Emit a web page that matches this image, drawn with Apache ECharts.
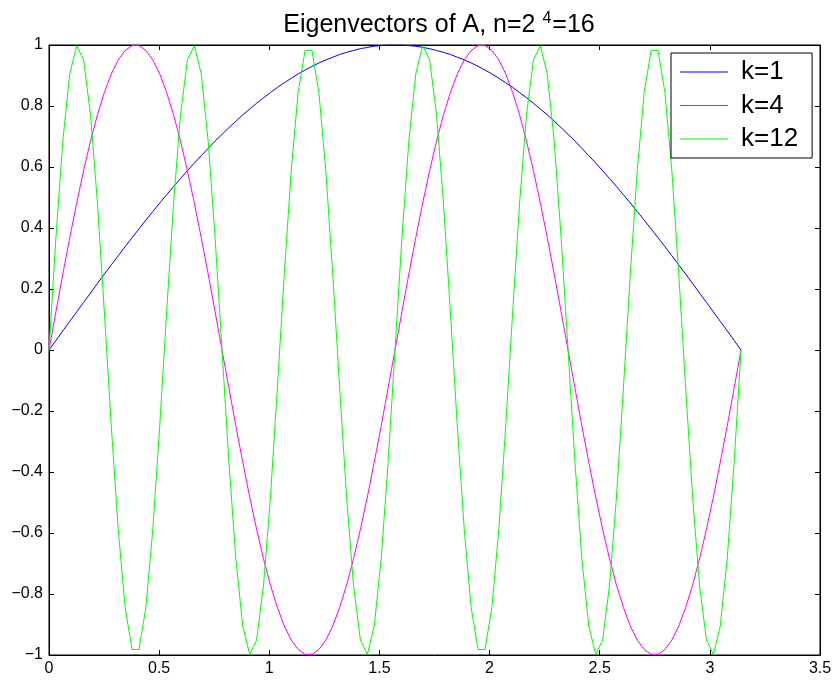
<!DOCTYPE html>
<html>
<head>
<meta charset="utf-8">
<script src="https://cdn.jsdelivr.net/npm/echarts@6/dist/echarts.min.js"></script>
<style>
html,body{margin:0;padding:0;background:#fff;}
#c{width:837px;height:682px;}
</style>
</head>
<body>
<div id="c"></div>
<script>
const xs = [0,0.0314,0.0628,0.0942,0.1257,0.1571,0.1885,0.2199,0.2513,0.2827,
0.3142,0.3456,0.3770,0.4084,0.4398,0.4712,0.5027,0.5341,0.5655,0.5969,
0.6283,0.6597,0.6912,0.7226,0.7540,0.7854,0.8168,0.8482,0.8796,0.9111,
0.9425,0.9739,1.0053,1.0367,1.0681,1.0996,1.1310,1.1624,1.1938,1.2252,
1.2566,1.2881,1.3195,1.3509,1.3823,1.4137,1.4451,1.4765,1.5080,1.5394,
1.5708,1.6022,1.6336,1.6650,1.6965,1.7279,1.7593,1.7907,1.8221,1.8535,
1.8850,1.9164,1.9478,1.9792,2.0106,2.0420,2.0735,2.1049,2.1363,2.1677,
2.1991,2.2305,2.2619,2.2934,2.3248,2.3562,2.3876,2.4190,2.4504,2.4819,
2.5133,2.5447,2.5761,2.6075,2.6389,2.6704,2.7018,2.7332,2.7646,2.7960,
2.8274,2.8588,2.8903,2.9217,2.9531,2.9845,3.0159,3.0473,3.0788,3.1102,
3.1416];

const k1 = [0,0.031,0.063,0.094,0.125,0.156,0.187,0.218,0.249,0.279,
0.309,0.339,0.368,0.397,0.426,0.454,0.482,0.509,0.536,0.562,
0.588,0.613,0.637,0.661,0.685,0.707,0.729,0.750,0.771,0.790,
0.809,0.827,0.844,0.861,0.876,0.891,0.905,0.918,0.930,0.941,
0.951,0.960,0.969,0.976,0.982,0.988,0.992,0.996,0.998,1.000,
1,1.000,0.998,0.996,0.992,0.988,0.982,0.976,0.969,0.960,
0.951,0.941,0.930,0.918,0.905,0.891,0.876,0.861,0.844,0.827,
0.809,0.790,0.771,0.750,0.729,0.707,0.685,0.661,0.637,0.613,
0.588,0.562,0.536,0.509,0.482,0.454,0.426,0.397,0.368,0.339,
0.309,0.279,0.249,0.218,0.187,0.156,0.125,0.094,0.063,0.031,
0];

const k4 = [0,0.125,0.249,0.368,0.482,0.588,0.685,0.771,0.844,0.905,0.951,0.982,0.998,
0.998,0.982,0.951,0.905,0.844,0.771,0.685,0.588,0.482,0.368,0.249,0.125,0,
-0.125,-0.249,-0.368,-0.482,-0.588,-0.685,-0.771,-0.844,-0.905,-0.951,-0.982,-0.998,
-0.998,-0.982,-0.951,-0.905,-0.844,-0.771,-0.685,-0.588,-0.482,-0.368,-0.249,-0.125,0,
0.125,0.249,0.368,0.482,0.588,0.685,0.771,0.844,0.905,0.951,0.982,0.998,
0.998,0.982,0.951,0.905,0.844,0.771,0.685,0.588,0.482,0.368,0.249,0.125,0,
-0.125,-0.249,-0.368,-0.482,-0.588,-0.685,-0.771,-0.844,-0.905,-0.951,-0.982,-0.998,
-0.998,-0.982,-0.951,-0.905,-0.844,-0.771,-0.685,-0.588,-0.482,-0.368,-0.249,-0.125,0];

const k12 = [0,0.368,0.685,0.905,0.998,0.951,0.771,0.482,0.125,-0.249,
-0.588,-0.844,-0.982,-0.982,-0.844,-0.588,-0.249,0.125,0.482,0.771,
0.951,0.998,0.905,0.685,0.368,0,-0.368,-0.685,-0.905,-0.998,
-0.951,-0.771,-0.482,-0.125,0.249,0.588,0.844,0.982,0.982,0.844,
0.588,0.249,-0.125,-0.482,-0.771,-0.951,-0.998,-0.905,-0.685,-0.368,
0,0.368,0.685,0.905,0.998,0.951,0.771,0.482,0.125,-0.249,
-0.588,-0.844,-0.982,-0.982,-0.844,-0.588,-0.249,0.125,0.482,0.771,
0.951,0.998,0.905,0.685,0.368,0,-0.368,-0.685,-0.905,-0.998,
-0.951,-0.771,-0.482,-0.125,0.249,0.588,0.844,0.982,0.982,0.844,
0.588,0.249,-0.125,-0.482,-0.771,-0.951,-0.998,-0.905,-0.685,-0.368,
0];

const seriesNames = ['k=1','k=4','k=12'];
const seriesColors = ['#0000ff','#ff00ff','#00ff00'];
const seriesValues = [k1,k4,k12];

const FONT = 'Liberation Sans, Arial, Helvetica, sans-serif';
const fmt = v => {
  const r = Math.round(v*10)/10;
  return String(r).replace('-', '\u2212');
};

const chart = echarts.init(document.getElementById('c'), null, {renderer:'canvas'});
const axisCommon = {
  axisLine:{show:true, onZero:false, lineStyle:{color:'#000', width:1}},
  axisTick:{show:true, inside:true, length:5, lineStyle:{color:'#000', width:1}},
  splitLine:{show:false}
};
chart.setOption({
  animation:false,
  backgroundColor:'#fff',
  title:{
    text:'Eigenvectors of A, n=2 {sup|4}=16',
    left:434, top:6, textAlign:'center',
    textStyle:{
      fontFamily:FONT, fontSize:25, fontWeight:'normal', color:'#000',
      rich:{sup:{fontFamily:FONT, fontSize:16, verticalAlign:'top', padding:[0,1,12,0], color:'#000'}}
    }
  },
  grid:{left:49, right:17, top:45, bottom:27, show:true, borderColor:'#000', borderWidth:1, backgroundColor:'#fff'},
  legend:{
    orient:'vertical', left:671, top:53,
    padding:[6,14,6,9], itemGap:7.5, itemWidth:48, itemHeight:1, icon:'rect',
    borderColor:'#000', borderWidth:1, backgroundColor:'#fff',
    textStyle:{fontFamily:FONT, fontSize:26, lineHeight:26, color:'#000', padding:[0,0,0,8]},
    data:seriesNames
  },
  xAxis:[
    Object.assign({type:'value', min:0, max:3.5, interval:0.5, position:'bottom',
      axisLabel:{fontFamily:FONT, fontSize:16, color:'#000', margin:6, formatter:fmt}}, axisCommon),
    Object.assign({type:'value', min:0, max:3.5, interval:0.5, position:'top',
      axisLabel:{show:false}}, axisCommon)
  ],
  yAxis:[
    Object.assign({type:'value', min:-1, max:1, interval:0.2, position:'left',
      axisLabel:{fontFamily:FONT, fontSize:16, color:'#000', margin:6, formatter:fmt}}, axisCommon),
    Object.assign({type:'value', min:-1, max:1, interval:0.2, position:'right',
      axisLabel:{show:false}}, axisCommon)
  ],
  series: seriesNames.map((n,i)=>({
    name:n, type:'line', symbol:'none', showSymbol:false,
    xAxisIndex:0, yAxisIndex:0,
    lineStyle:{color:seriesColors[i], width:1},
    itemStyle:{color:seriesColors[i]},
    data: xs.map((x,j)=>[x, seriesValues[i][j]])
  }))
});
</script>
</body>
</html>
